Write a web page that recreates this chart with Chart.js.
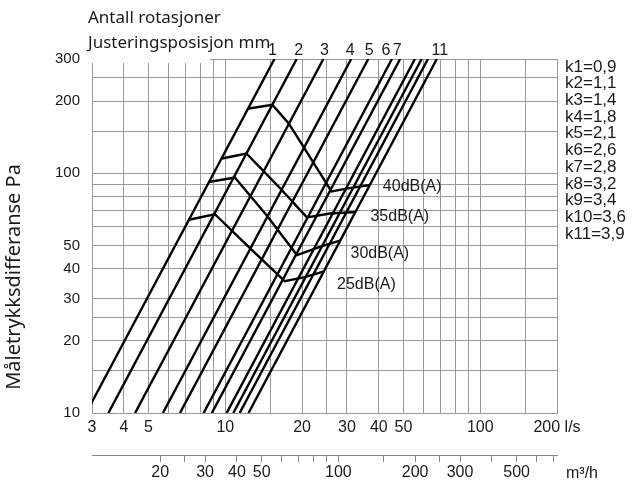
<!DOCTYPE html>
<html>
<head>
<meta charset="utf-8">
<script src="https://cdn.jsdelivr.net/npm/chart.js@4.4.1/dist/chart.umd.min.js"></script>
<style>
  html, body { margin: 0; padding: 0; background: #fff; }
  #wrap { width: 634px; height: 485px; position: relative; }
</style>
</head>
<body>
<div id="wrap"><canvas id="c" width="634" height="485"></canvas></div>
<script>
// Damper k-factors: flow q [l/s] = k * sqrt(dp [Pa])
const kValues = [0.9, 1.1, 1.4, 1.8, 2.1, 2.6, 2.8, 3.2, 3.4, 3.6, 3.9];
const kLabels = ['k1=0,9', 'k2=1,1', 'k3=1,4', 'k4=1,8', 'k5=2,1', 'k6=2,6',
                 'k7=2,8', 'k8=3,2', 'k9=3,4', 'k10=3,6', 'k11=3,9'];
const pressureRange = [10, 300];
const numberedLines = [1, 2, 3, 4, 5, 6, 7, 11];
const numberShift = [-2, 2, 1, -1, 1, -6, -3, 3];

// Sound level curves, [flow l/s, pressure Pa]
const noise40 = [[12.2, 186], [15.3, 193], [17.7, 162], [19.9, 133], [22.5, 108], [26.1, 84], [30.3, 86.6], [36.9, 89.4]];
const noise35 = [[9.6, 115], [12.1, 121], [16.1, 88.5], [20.9, 65.5], [25.7, 68], [32.4, 69]];
const noise30 = [[8.6, 92], [10.9, 96], [14.6, 66.4], [19.1, 45.6], [23.5, 49.3], [28.3, 52.5]];
const noise25 = [[7.2, 64], [9.1, 67.5], [12.7, 47.9], [17.1, 35.5], [20.5, 36.9], [24.4, 39]];
const noiseCurves = [noise40, noise35, noise30, noise25];
const noiseLabels = ['40dB(A)', '35dB(A)', '30dB(A)', '25dB(A)'];
const noiseLabelOffsets = [[13, 2], [15, 5], [10, 13], [13, 13]];

// Axes
const flowGrid = [3, 4, 5, 6, 7, 8, 9, 10, 15, 20, 25, 30, 40, 50, 60, 70, 80, 90, 100, 150, 200];
const flowTickLabels = { 3: '3', 4: '4', 5: '5', 10: '10', 20: '20', 30: '30', 40: '40', 50: '50', 100: '100', 200: '200 l/s' };
const pressureGrid = [10, 15, 20, 25, 30, 40, 50, 60, 70, 80, 90, 100, 150, 200, 250, 300];
const pressureTickLabels = [10, 20, 30, 40, 50, 100, 200, 300];
const m3hTicks = [20, 25, 30, 40, 50, 60, 70, 80, 90, 100, 150, 200, 250, 300, 400, 500, 600, 700];
const m3hTickLabels = [20, 30, 40, 50, 100, 200, 300, 500];
const LS_TO_M3H = 3.6;

const SANS = "'Liberation Sans', Arial, sans-serif";
const HUMAN = "'Noto Sans', 'Open Sans', sans-serif";
const TEXT = '#1a1a1a';
const GRID = '#999999';

Chart.defaults.font.family = SANS;
Chart.defaults.color = TEXT;

const lineStyle = {
  showLine: true, pointRadius: 0, borderColor: '#000', borderWidth: 2.4,
  borderJoinStyle: 'miter', tension: 0, fill: false
};

const datasets = [];
kValues.forEach(k => {
  datasets.push(Object.assign({
    data: pressureRange.map(p => ({ x: k * Math.sqrt(p), y: p }))
  }, lineStyle));
});
noiseCurves.forEach(curve => {
  datasets.push(Object.assign({
    data: curve.map(([q, p]) => ({ x: q, y: p }))
  }, lineStyle));
});

const annotate = {
  id: 'annotate',
  beforeDatasetsDraw(chart) {
    // open corner of the frame under the heading
    const { ctx, chartArea: a } = chart;
    ctx.save();
    ctx.fillStyle = '#fff';
    ctx.fillRect(a.left - 1, a.top - 2, 119, 6);
    ctx.restore();
  },
  afterDraw(chart) {
    const { ctx } = chart;
    const xs = chart.scales.x, ys = chart.scales.y;
    ctx.save();
    ctx.fillStyle = TEXT;

    // headings
    ctx.font = `17px ${HUMAN}`;
    ctx.textAlign = 'left';
    ctx.textBaseline = 'middle';
    ctx.fillText('Antall rotasjoner', 88, 18);
    ctx.fillText('Justeringsposisjon mm', 88, 43);

    // line numbers at the top of each k-line
    ctx.font = `16px ${SANS}`;
    ctx.textAlign = 'center';
    numberedLines.forEach((n, i) => {
      const k = kValues[n - 1];
      const px = xs.getPixelForValue(k * Math.sqrt(pressureRange[1]));
      ctx.fillText(String(n), px + numberShift[i], 51);
    });

    // sound level labels at the end of each curve
    ctx.textAlign = 'left';
    noiseCurves.forEach((curve, i) => {
      const [q, p] = curve[curve.length - 1];
      const px = xs.getPixelForValue(q), py = ys.getPixelForValue(p);
      ctx.fillText(noiseLabels[i], px + noiseLabelOffsets[i][0], py + noiseLabelOffsets[i][1]);
    });

    // k-factor list
    ctx.font = `17px ${SANS}`;
    kLabels.forEach((t, i) => ctx.fillText(t, 565, 67 + i * 16.7));

    // unit of the lower flow axis
    ctx.font = `16px ${SANS}`;
    ctx.fillText('m³/h', 566, 474);

    // vertical axis title
    ctx.font = `20px ${HUMAN}`;
    ctx.translate(14, 277);
    ctx.rotate(-Math.PI / 2);
    ctx.textAlign = 'center';
    ctx.fillText('Måletrykksdifferanse Pa', 0, 0);
    ctx.restore();
  }
};

new Chart(document.getElementById('c'), {
  type: 'scatter',
  data: { datasets },
  plugins: [annotate],
  options: {
    responsive: false,
    animation: false,
    events: [],
    layout: { padding: { top: 59, right: 77, left: 0, bottom: 0 } },
    plugins: { legend: { display: false }, tooltip: { enabled: false } },
    scales: {
      x: {
        type: 'logarithmic', position: 'bottom', weight: 0,
        min: flowGrid[0], max: flowGrid[flowGrid.length - 1],
        afterBuildTicks: s => { s.ticks = flowGrid.map(v => ({ value: v })); },
        afterFit: s => { s.height = 42; },
        grid: { color: GRID, lineWidth: 1, drawTicks: false },
        border: { color: GRID },
        ticks: {
          autoSkip: false, maxRotation: 0, padding: 5,
          font: { size: 16 }, color: TEXT,
          callback: v => flowTickLabels[v] || ''
        }
      },
      x2: {
        type: 'logarithmic', position: 'bottom', weight: 1,
        min: flowGrid[0] * LS_TO_M3H, max: flowGrid[flowGrid.length - 1] * LS_TO_M3H,
        afterBuildTicks: s => { s.ticks = m3hTicks.map(v => ({ value: v })); },
        afterFit: s => { s.height = 30; },
        grid: { drawOnChartArea: false, drawTicks: true, tickLength: 7, color: '#888888' },
        border: { color: '#888888' },
        ticks: {
          autoSkip: false, maxRotation: 0, padding: 1,
          font: { size: 16 }, color: TEXT,
          callback: v => (m3hTickLabels.includes(v) ? String(v) : '')
        }
      },
      y: {
        type: 'logarithmic', position: 'left',
        min: pressureGrid[0], max: pressureGrid[pressureGrid.length - 1],
        afterBuildTicks: s => { s.ticks = pressureGrid.map(v => ({ value: v })); },
        afterFit: s => { s.width = 92; },
        grid: { color: GRID, lineWidth: 1, drawTicks: false },
        border: { color: GRID },
        ticks: {
          autoSkip: false, padding: 12,
          font: { size: 15 }, color: TEXT,
          callback: v => (pressureTickLabels.includes(v) ? String(v) : '')
        }
      }
    }
  }
});
</script>
</body>
</html>
